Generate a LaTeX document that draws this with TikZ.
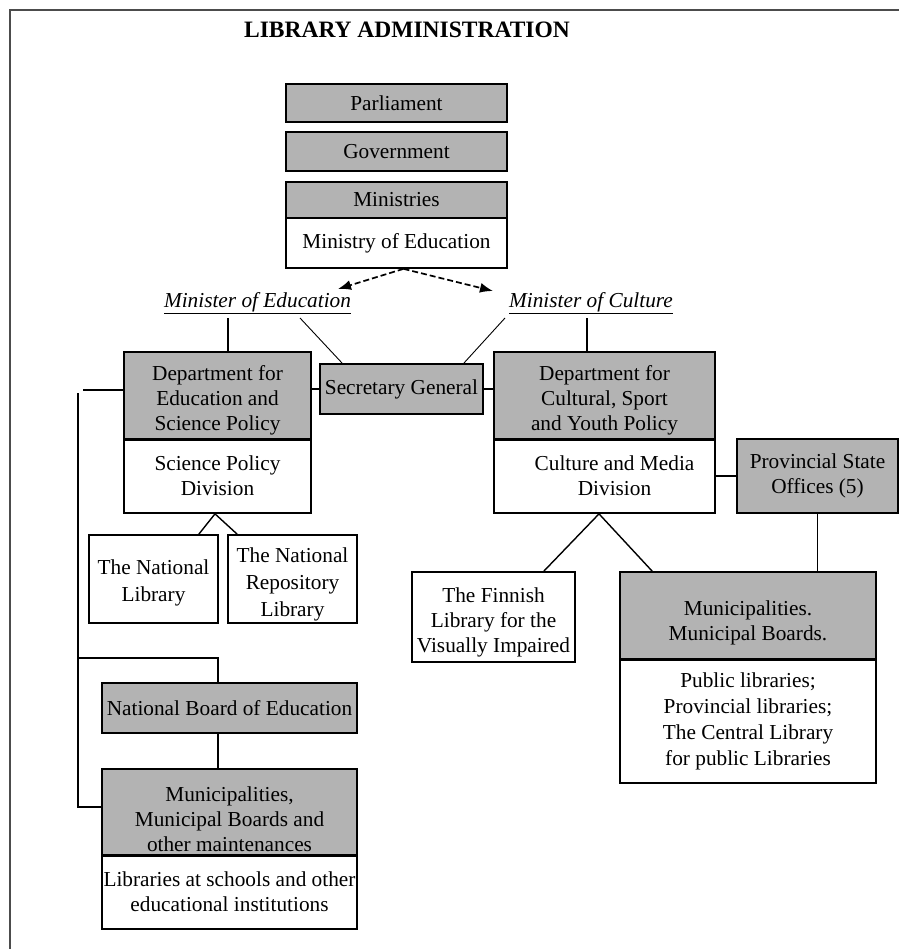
\documentclass[tikz,border=0pt]{standalone}
\usepackage{fontspec}
\setmainfont{Liberation Serif}
\usetikzlibrary{arrows.meta,calc}
\definecolor{boxgray}{RGB}{179,179,179}
\begin{document}
\begin{tikzpicture}[x=1pt,y=-1pt,
  txt/.style={font=\fontsize{21.3}{25}\selectfont, align=center, inner sep=0pt},
  box/.style 2 args={draw=black, line width=1.7pt, minimum width=#1, minimum height=#2, inner sep=0pt, txt},
  gbox/.style 2 args={box={#1}{#2}, fill=boxgray},
  wbox/.style 2 args={box={#1}{#2}, fill=white},
  ital/.style={inner sep=0pt, font=\fontsize{21.3}{25}\selectfont\itshape},
  conn/.style={line width=1.4pt},
  thinconn/.style={line width=0.9pt},
  sep/.style={line width=3pt},
  frame/.style={line width=2pt, draw=black!70},
  dasharrow/.style={line width=1.7pt, dash pattern=on 6pt off 3pt, -{Latex[length=13pt,width=10pt]}}
]
\useasboundingbox (0,0) rectangle (899,949);
\fill[white] (0,0) rectangle (899,949);
\draw[frame] (10,949) -- (10,10) -- (899,10);

\node[font=\fontsize{23.5}{27}\selectfont\bfseries] (title) at (407,30) {LIBRARY ADMINISTRATION};

\node[gbox={221}{38}] (parl) at (396.5,103) {Parliament};
\node[gbox={221}{39}] (gov) at (396.5,151.5) {Government};
\node[gbox={221}{36}] (mins) at (396.5,200) {Ministries};
\node[wbox={221}{50}] (moe) at (396.5,243) {Ministry of Education};

\node[ital] (minEd) at (257.5,303) {\underline{Minister of Education}};
\node[ital] (minCu) at (591,303) {\underline{Minister of Culture}};

\node[gbox={187}{87}] (deped) at (217.5,395.5) {};
\node[txt] (deped-t) at ($(deped.center)+(0,5)$) {Department for\\Education and\\Science Policy};
\node[wbox={187}{74}] (spd) at (217.5,476) {Science Policy\\Division};
\node[gbox={163}{50}] (sg) at (401.5,389) {Secretary General};
\node[gbox={221}{87}] (depcu) at (604.5,395.5) {};
\node[txt] (depcu-t) at ($(depcu.center)+(0,5)$) {Department for\\Cultural, Sport\\and Youth Policy};
\node[wbox={221}{74}] (cmd) at (604.5,476) {};
\node[txt] (cmd-t) at ($(cmd.center)+(10,0)$) {Culture and Media\\Division};
\node[gbox={161}{74}] (pso) at (817.5,476) {Provincial State\\Offices (5)};
\node[wbox={129}{88}] (natlib) at (153.5,579) {};
\node[txt, font=\fontsize{21.3}{27}\selectfont] (natlib-t) at ($(natlib.center)+(0,4)$) {The National\\Library};
\node[wbox={129}{88}] (repo) at (292.5,579) {};
\node[txt, font=\fontsize{21.3}{27}\selectfont] (repo-t) at ($(repo.center)+(0,5)$) {The National\\Repository\\Library};
\node[wbox={163}{90}] (fin) at (493.5,617) {};
\node[txt] (fin-t) at ($(fin.center)+(0,5)$) {The Finnish\\Library for the\\Visually Impaired};
\node[gbox={256}{87}] (munR) at (748,615.5) {};
\node[txt] (munR-t) at ($(munR.center)+(0,7)$) {Municipalities.\\Municipal Boards.};
\node[wbox={256}{124}] (pub) at (748,721) {};
\node[txt, font=\fontsize{21.3}{26}\selectfont] (pub-t) at (pub.center) {Public libraries;\\Provincial libraries;\\The Central Library\\for public Libraries};
\node[gbox={255}{50}] (nbe) at (229.5,708) {National Board of Education};
\node[gbox={255}{86}] (munL) at (229.5,812) {};
\node[txt] (munL-t) at ($(munL.center)+(0,7)$) {Municipalities,\\Municipal Boards and\\other maintenances};
\node[wbox={255}{74}] (lib) at (229.5,892) {Libraries at schools and other\\educational institutions};

% thick separators
\draw[sep] (deped.south west) -- (deped.south east);
\draw[sep] (depcu.south west) -- (depcu.south east);
\draw[sep] (munR.south west) -- (munR.south east);
\draw[sep] (munL.south west) -- (munL.south east);

% dashed arrows
\coordinate (split) at ($(moe.south)+(7,0)$);
\coordinate (tipL) at (338,289);
\coordinate (tipR) at (493,291);
\draw[dasharrow] (split) -- (tipL);
\draw[dasharrow] (split) -- (tipR);

% minister links
\coordinate (a1) at (228,318);
\coordinate (a2) at (300,318);
\coordinate (a3) at (587,318);
\coordinate (a4) at (505,318);
\draw[conn] (a1) -- (a1 |- deped.north);
\draw[thinconn] (a2) -- ($(sg.north west)+(23,0)$);
\draw[conn] (a3) -- (a3 |- depcu.north);
\draw[thinconn] (a4) -- ($(sg.north east)+(-20,0)$);

\draw[conn] (sg.west) -- (sg.west -| deped.east);
\draw[conn] (sg.east) -- (sg.east -| depcu.west);
\draw[conn] (pso.west) -- (pso.west -| cmd.east);
\draw[conn] (pso.south) -- (pso.south |- munR.north);

\coordinate (s1) at ($(spd.south)+(-2.5,0)$);
\draw[conn] (s1) -- ($(natlib.north east)+(-20,0)$);
\draw[conn] (s1) -- ($(repo.north west)+(10,0)$);

\coordinate (s2) at ($(cmd.south)+(-5.5,0)$);
\draw[conn] (s2) -- ($(fin.north east)+(-32,0)$);
\draw[conn] (s2) -- ($(munR.north west)+(33,0)$);

% left bracket
\coordinate (j0) at (83,390);
\coordinate (j1) at (78,393);
\coordinate (j2) at (78,658);
\coordinate (j3) at (78,807);
\coordinate (j4) at (218,658);
\draw[conn] (j0 -| deped.west) -- (j0);
\draw[conn] (j1) -- (j3) -- (j3 -| munL.west);
\draw[conn] (j2) -- (j4) -- (j4 |- nbe.north);
\draw[conn] (j4 |- nbe.south) -- (j4 |- munL.north);
\end{tikzpicture}
\end{document}
